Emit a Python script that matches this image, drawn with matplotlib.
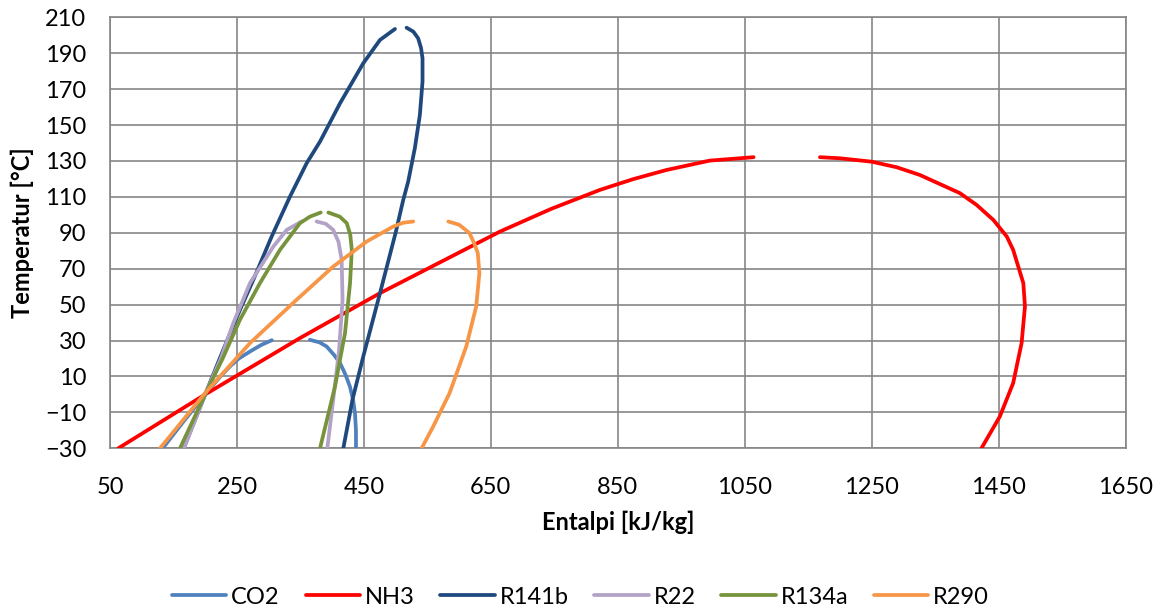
import matplotlib
matplotlib.use("Agg")
import matplotlib.pyplot as plt

plt.rcParams['font.family'] = ['Lato', 'DejaVu Sans']

# saturation curves: liquid branch and vapour branch (T in C, h in kJ/kg)
co2_liq_T = [-30, -15, 0, 10, 15.6, 20, 23.9, 27.5, 30.2]
co2_liq_h = [133, 166, 200, 224, 239, 253, 270.6, 288, 305]
co2_vap_T = [30.4, 29, 26.7, 22, 17.5, 11, 4.4, -3, -10.4, -20, -30]
co2_vap_h = [365, 380, 391.3, 403, 412.4, 421, 428, 433, 436, 437.5, 437.6]

nh3_liq_T = [-30, 0, 31.4, 56.4, 90.7, 103.3, 113.9, 119.9, 125, 130.2, 132.1]
nh3_liq_h = [63, 200, 349.4, 475.4, 664.5, 745, 822, 874.5, 927, 995, 1064]
nh3_vap_T = [132.1, 131.5, 129.6, 126.5, 122.2, 112.1, 105.5, 97.2, 87.9, 80.5, 62, 49, 28.6, 6.3, -12.3, -30]
nh3_vap_h = [1168.6, 1200, 1250, 1289.5, 1326, 1389, 1415.5, 1441.7, 1463, 1473, 1489, 1491.6, 1486.3, 1473, 1452, 1423]

r141b_liq_T = [-30, 0, 24.9, 47.1, 63.8, 88, 110.2, 128.8, 140.8, 162.1, 184.4, 197.4, 203.5]
r141b_liq_h = [166, 200, 228.5, 254.8, 275.8, 304.8, 333.6, 359.9, 380.9, 412.4, 449, 475.4, 499]
r141b_vap_T = [204.2, 202, 198.3, 193, 187.2, 174.2, 155.6, 137.1, 118.5, 108.3, 90, 56.4, 21.1, -3, -30]
r141b_vap_h = [517.3, 528, 535.5, 540, 542.4, 542.4, 538.2, 530.3, 519.8, 512, 500, 475.4, 449, 432, 417.6]

r22_liq_T = [-30, 0, 20, 39.7, 62, 82.3, 91.6, 96.3]
r22_liq_h = [166.5, 200, 224.6, 244.3, 270.6, 307.3, 328.4, 352]
r22_vap_T = [96.3, 95, 91.6, 85, 75, 52.7, 24.9, -2.9, -30]
r22_vap_h = [375.5, 390, 401.7, 410, 415, 416.4, 411, 401.7, 392.4]

r134a_liq_T = [-30, -10, 0, 20, 41.6, 62, 80.5, 95.4, 99, 101.3]
r134a_liq_h = [160.2, 186.7, 200, 227.5, 254.8, 286.3, 317.8, 349.4, 365, 382]
r134a_vap_T = [101.3, 99, 95.4, 89, 80.5, 62, 34.2, 4.4, -30]
r134a_vap_h = [394, 412, 423, 428.5, 431, 428.2, 420.3, 404.5, 380.9]

r290_liq_T = [-30, 0.7, 28.6, 52.7, 71.2, 85.1, 93.5, 95.6, 96.3]
r290_liq_h = [128.8, 199.7, 270.6, 344, 401.7, 454.2, 496.3, 512, 527.8]
r290_vap_T = [96.3, 94.5, 92, 89.8, 84, 78.7, 67.5, 49, 26.7, 0.7, -17.8, -30]
r290_vap_h = [583, 600, 609, 616.4, 624, 629.5, 632, 627, 611.3, 585, 559.3, 541]

names = ['CO2', 'NH3', 'R141b', 'R22', 'R134a', 'R290']
colors = ['#4F81BD', '#FF0000', '#1F497D', '#B3A2C7', '#77933C', '#F79646']
curves = [
    (co2_liq_h, co2_liq_T, co2_vap_h, co2_vap_T),
    (nh3_liq_h, nh3_liq_T, nh3_vap_h, nh3_vap_T),
    (r141b_liq_h, r141b_liq_T, r141b_vap_h, r141b_vap_T),
    (r22_liq_h, r22_liq_T, r22_vap_h, r22_vap_T),
    (r134a_liq_h, r134a_liq_T, r134a_vap_h, r134a_vap_T),
    (r290_liq_h, r290_liq_T, r290_vap_h, r290_vap_T),
]

x_ticks = list(range(50, 1651, 200))
y_ticks = list(range(-30, 211, 20))

fig = plt.figure(figsize=(11.61, 6.10), dpi=100)
ax = fig.add_axes([110/1161, 1-448.3/610, 1015.5/1161, 431/610])

for name, col, (lh, lt, vh, vt) in zip(names, colors, curves):
    ax.plot(lh, lt, color=col, lw=2.7, solid_capstyle='round', solid_joinstyle='round', label=name, zorder=3)
    ax.plot(vh, vt, color=col, lw=2.7, solid_capstyle='round', solid_joinstyle='round', zorder=3)

ax.set_xlim(50, 1650)
ax.set_ylim(-30, 210)
ax.set_xticks(x_ticks)
ax.set_yticks(y_ticks)
ax.grid(True, color='#868686', lw=1.2)
ax.set_axisbelow(True)
for s in ax.spines.values():
    s.set_color('#868686')
    s.set_linewidth(1.2)
ax.tick_params(length=0, labelsize=17, colors='black')
ax.tick_params(axis='x', pad=21)
ax.tick_params(axis='y', pad=17)

fig.text(618/1161, 1-522/610, 'Entalpi [kJ/kg]', ha='center', va='center', fontsize=17, fontweight='bold')
fig.text(22/1161, 1-233/610, 'Temperatur [°C]', ha='center', va='center', rotation=90, fontsize=17, fontweight='bold')

fig.legend(loc='center', bbox_to_anchor=(0.5, 1-597/610), ncol=6, frameon=False, fontsize=17,
           handlelength=2.3, handletextpad=0.2, columnspacing=1.1)

fig.savefig('out.png', dpi=100)
